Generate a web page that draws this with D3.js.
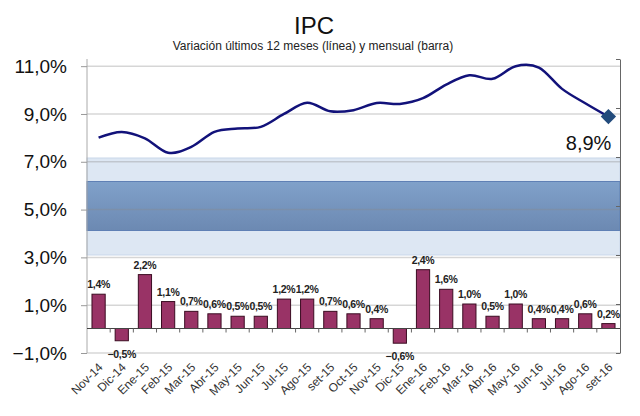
<!DOCTYPE html>
<html>
<head>
<meta charset="utf-8">
<script src="https://cdn.jsdelivr.net/npm/d3@7"></script>
<style>
  body { margin: 0; background: #fff; }
  svg { display: block; font-family: "Liberation Sans", Arial, sans-serif; }
</style>
</head>
<body>
<svg id="chart"></svg>
<script>
/*	Chart data --------------------------------------*/
const categories = ["Nov-14","Dic-14","Ene-15","Feb-15","Mar-15","Abr-15","May-15","Jun-15",
	"Jul-15","Ago-15","set-15","Oct-15","Nov-15","Dic-15","Ene-16","Feb-16","Mar-16","Abr-16",
	"May-16","Jun-16","Jul-16","Ago-16","set-16"];
const mensual = [1.4,-0.5,2.2,1.1,0.7,0.6,0.5,0.5,1.2,1.2,0.7,0.6,0.4,-0.6,2.4,1.6,1.0,0.5,1.0,0.4,0.4,0.6,0.2];
const interanual = [8.01,8.25,7.98,7.38,7.62,8.25,8.39,8.46,9.00,9.47,9.11,9.16,9.46,9.42,9.66,
	10.23,10.62,10.47,11.0,10.94,10.05,9.45,8.89];
const leftTicks = [-1,1,3,5,7,9,11];
const rightTicks = [-1,1,3,5,7,9,11];
const rangoMeta = [3,7];
const rangoInterno = [4,6];
const titulo = "IPC";
const subtitulo = "Variación últimos 12 meses (línea) y mensual (barra)";

/*	Size and plot area -------------------------------*/
const width = 640, height = 416;
const plot = {left:87, right:620, top:59, bottom:353};

const svg = d3.select("#chart")
	.attr("width", width)
	.attr("height", height)
	.attr("viewBox", "0 0 " + width + " " + height);

const fmt = v => d3.format(".1f")(v).replace(".", ",") + "%";

/*	Scales: line on the left axis, bars and bands on the right one */
const x = d3.scaleBand()
	.domain(categories)
	.range([plot.left, plot.right])
	.paddingInner(0.43)
	.paddingOuter(0.215);
const yLeft = d3.scaleLinear().domain([-1, 11.3]).range([plot.bottom, plot.top]);
const yRight = d3.scaleLinear().domain([-1, 11]).range([plot.bottom, plot.top]);
const xc = c => x(c) + x.bandwidth() / 2;

/*	Gradient for the inner band ----------------------*/
const defs = svg.append("defs");
const grad = defs.append("linearGradient").attr("id","bandGrad")
	.attr("x1",0).attr("y1",0).attr("x2",0).attr("y2",1);
grad.append("stop").attr("offset","0%").attr("stop-color","#80a1ca");
grad.append("stop").attr("offset","100%").attr("stop-color","#6c89b2");

/*	Bands ---------------------------------------------*/
svg.append("rect")
	.attr("x", plot.left).attr("width", plot.right - plot.left)
	.attr("y", yRight(rangoMeta[1]) + 1)
	.attr("height", yRight(rangoMeta[0]) - yRight(rangoMeta[1]) - 1)
	.attr("fill", "#dde7f3").attr("stroke", "#c9d7ea").attr("stroke-width", 1);
svg.append("rect")
	.attr("x", plot.left).attr("width", plot.right - plot.left)
	.attr("y", yRight(rangoInterno[1]))
	.attr("height", yRight(rangoInterno[0]) - yRight(rangoInterno[1]))
	.attr("fill", "url(#bandGrad)").attr("stroke", "#5f80b5").attr("stroke-width", 1);

/*	Gridlines on top of the bands ---------------------*/
svg.append("g").attr("class","grid")
	.selectAll("line").data(leftTicks).join("line")
	.attr("x1", plot.left).attr("x2", plot.right)
	.attr("y1", d => yLeft(d)).attr("y2", d => yLeft(d))
	.attr("stroke", "#8a8a8a").attr("stroke-opacity", 0.35).attr("stroke-width", 1.5);

/*	Left axis -----------------------------------------*/
const axL = svg.append("g")
	.attr("transform", "translate(" + plot.left + ",0)")
	.call(d3.axisLeft(yLeft).tickValues(leftTicks).tickFormat(fmt).tickSize(6).tickSizeOuter(0).tickPadding(14));
axL.select(".domain").attr("stroke", "#aaa").attr("d", "M0," + plot.top + "V" + plot.bottom);
axL.selectAll(".tick line").attr("stroke", "#999");
axL.selectAll(".tick text").attr("font-size", 19).attr("fill", "#111")
	.attr("font-family", "Liberation Sans, Arial, sans-serif");

/*	Right axis, no labels ------------------------------*/
const axR = svg.append("g")
	.attr("transform", "translate(" + plot.right + ",0)")
	.call(d3.axisRight(yRight).tickValues(rightTicks).tickFormat("").tickSize(-4).tickSizeOuter(0));
axR.select(".domain").attr("stroke", "#666");
axR.selectAll(".tick line").attr("stroke", "#666");

/*	Bars ----------------------------------------------*/
svg.append("g").selectAll(".bar")
	.data(mensual).join("rect")
	.attr("class","bar")
	.attr("x", (d,i) => x(categories[i]))
	.attr("width", x.bandwidth())
	.attr("y", d => yRight(Math.max(0, d)))
	.attr("height", d => Math.abs(yRight(d) - yRight(0)))
	.attr("fill", "#993366").attr("stroke", "#3b0c22").attr("stroke-width", 1);

/*	Zero line with category ticks ---------------------*/
const zero = svg.append("g");
zero.append("line")
	.attr("x1", plot.left).attr("x2", plot.right)
	.attr("y1", yRight(0)).attr("y2", yRight(0))
	.attr("stroke", "#444").attr("stroke-width", 1.2);
zero.selectAll(".ctick").data(categories.slice(1)).join("line")
	.attr("class","ctick")
	.attr("x1", c => x(c) - x.step() * x.paddingInner() / 2)
	.attr("x2", c => x(c) - x.step() * x.paddingInner() / 2)
	.attr("y1", yRight(0)).attr("y2", yRight(0) + 4)
	.attr("stroke", "#666");

/*	Bar labels ----------------------------------------*/
svg.append("g").selectAll("text")
	.data(mensual).join("text")
	.attr("x", (d,i) => xc(categories[i]))
	.attr("y", d => d >= 0 ? yRight(d) - 6 : yRight(d) + 17)
	.attr("text-anchor", "middle")
	.attr("font-size", 10.5).attr("font-weight", "bold").attr("fill", "#222")
	.attr("letter-spacing", -0.3)
	.text(d => fmt(d));

/*	Line, smoothed like the spreadsheet ---------------*/
const line = d3.line()
	.x((d,i) => xc(categories[i]))
	.y(d => yLeft(d))
	.curve(d3.curveCardinal.tension(0));
svg.append("path")
	.datum(interanual)
	.attr("d", line)
	.attr("fill", "none").attr("stroke", "#12127a").attr("stroke-width", 2.5);

/*	Last point marker and label -----------------------*/
const last = interanual.length - 1;
svg.append("path")
	.attr("d", d3.symbol(d3.symbolDiamond2, 150)())
	.attr("transform", "translate(" + xc(categories[last]) + "," + yLeft(interanual[last]) + ")")
	.attr("fill", "#224b7c");
svg.append("text")
	.attr("x", xc(categories[last]) + 3)
	.attr("y", yLeft(interanual[last]) + 33)
	.attr("text-anchor", "end")
	.attr("font-size", 20).attr("fill", "#111")
	.text(fmt(interanual[last]));

/*	Category labels -----------------------------------*/
svg.append("g").selectAll("text")
	.data(categories).join("text")
	.attr("transform", c => "translate(" + (xc(c) + 5) + ",368) rotate(-45)")
	.attr("text-anchor", "end")
	.attr("font-size", 12).attr("fill", "#333")
	.text(c => c);

/*	Titles --------------------------------------------*/
svg.append("text")
	.attr("x", 314).attr("y", 34)
	.attr("text-anchor", "middle")
	.attr("font-size", 24).attr("fill", "#111")
	.text(titulo);
svg.append("text")
	.attr("x", 313).attr("y", 50)
	.attr("text-anchor", "middle")
	.attr("font-size", 12).attr("fill", "#222")
	.text(subtitulo);
</script>
</body>
</html>
